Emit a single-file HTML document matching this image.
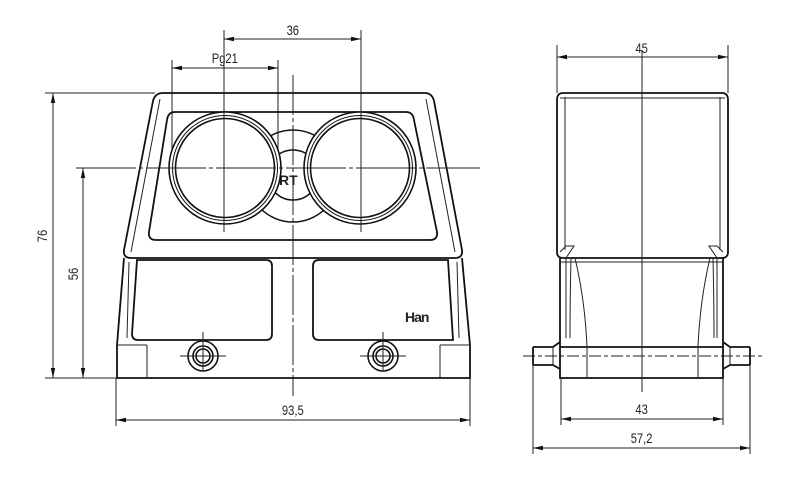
<!DOCTYPE html>
<html><head><meta charset="utf-8"><style>
html,body{margin:0;padding:0;background:#fff}
svg{display:block}
text{font-family:"Liberation Sans",sans-serif;font-size:14px;fill:#222}
</style></head><body>
<svg width="793" height="483" viewBox="0 0 793 483" xmlns="http://www.w3.org/2000/svg">
<defs>
<marker id="a" viewBox="0 0 10 6" refX="10" refY="3" markerWidth="10" markerHeight="6" markerUnits="userSpaceOnUse" orient="auto-start-reverse"><path d="M0,0.8 L10,3 L0,5.2z" fill="#111"/></marker>
</defs>
<g fill="none" stroke="#222" stroke-width="1">
<line x1="224" y1="39" x2="361" y2="39" marker-start="url(#a)" marker-end="url(#a)"/>
<line x1="172" y1="68" x2="278" y2="68" marker-start="url(#a)" marker-end="url(#a)"/>
<line x1="53" y1="93" x2="53" y2="378" marker-start="url(#a)" marker-end="url(#a)"/>
<line x1="83" y1="168" x2="83" y2="378" marker-start="url(#a)" marker-end="url(#a)"/>
<line x1="116" y1="420" x2="470" y2="420" marker-start="url(#a)" marker-end="url(#a)"/>
<line x1="557" y1="57" x2="728" y2="57" marker-start="url(#a)" marker-end="url(#a)"/>
<line x1="561" y1="419" x2="723" y2="419" marker-start="url(#a)" marker-end="url(#a)"/>
<line x1="533" y1="448" x2="750" y2="448" marker-start="url(#a)" marker-end="url(#a)"/>
<line x1="45" y1="93" x2="155" y2="93"/>
<line x1="45" y1="378" x2="116" y2="378"/>
<line x1="172" y1="60" x2="172" y2="150"/>
<line x1="278" y1="60" x2="278" y2="150"/>
<line x1="116" y1="378" x2="116" y2="426"/>
<line x1="470" y1="378" x2="470" y2="426"/>
<line x1="557" y1="45" x2="557" y2="93"/>
<line x1="728" y1="45" x2="728" y2="93"/>
<line x1="561" y1="378" x2="561" y2="425"/>
<line x1="723" y1="378" x2="723" y2="425"/>
<line x1="533" y1="360" x2="533" y2="454"/>
<line x1="750" y1="360" x2="750" y2="454"/>
<line x1="523" y1="356" x2="762" y2="356" stroke-dasharray="12,3,4,3"/>
</g>
<g fill="none" stroke="#111" stroke-width="1.8">
<path d="M163,93 L425,93 Q432,93 434,101 L462,250 Q463,258 455,258 L131,258 Q123,258 124,250 L153,101 Q155,93 163,93Z"/>
<path d="M175,112 L406,112 Q413,112 414,120 L437,232 Q438,240 430,240 L156,240 Q148,240 149,232 L167,120 Q168,112 175,112Z"/>
<path d="M124,258 L117,345 L117,378 L470,378 L470,345 L462,258"/>
<path d="M137,260 L266,260 Q272,260 272,266 L272,334 Q272,340 266,340 L138,340 Q132,340 132,334 Z"/>
<path d="M319,260 L448,260 L453,340 L319,340 Q313,340 313,334 L313,266 Q313,260 319,260Z"/>
</g>
<g fill="none" stroke="#222" stroke-width="1">
<path d="M147,345 L147,378 M440,345 L440,378 M117,345 L147,345 M440,345 L470,345"/>
<path d="M129,262 L127,338 M457,262 L459,338"/>
<path d="M160,99 L131,252 M426,99 L455,252"/>
<circle cx="293" cy="176" r="46" stroke="#111" stroke-width="1.5"/>
<circle cx="293" cy="175" r="25" stroke="#111" stroke-width="1.5"/>
</g>
<text x="279" y="185" style="font-weight:bold;font-size:14px">RT</text>
<g fill="#fff" stroke="#111" stroke-width="1.6">
<circle cx="225" cy="168" r="56"/><circle cx="225" cy="168" r="52.5" stroke-width="1"/><circle cx="225" cy="168" r="49.5"/>
<circle cx="360" cy="168" r="56"/><circle cx="360" cy="168" r="52.5" stroke-width="1"/><circle cx="360" cy="168" r="49.5"/>
<circle cx="203" cy="356" r="15"/><circle cx="203" cy="356" r="10"/><circle cx="203" cy="356" r="7"/>
<circle cx="383" cy="356" r="15"/><circle cx="383" cy="356" r="10"/><circle cx="383" cy="356" r="7"/>
</g>
<g stroke="#222" stroke-width="1" fill="none">
<line x1="76" y1="168" x2="480" y2="168" stroke-dasharray="60,3,4,3"/>
<line x1="224" y1="30" x2="224" y2="232"/>
<line x1="361" y1="30" x2="361" y2="232"/>
<line x1="293" y1="75" x2="293" y2="396" stroke-dasharray="40,3,4,3"/>
<line x1="180" y1="356" x2="226" y2="356"/><line x1="203" y1="332" x2="203" y2="370"/>
<line x1="360" y1="356" x2="406" y2="356"/><line x1="383" y1="332" x2="383" y2="370"/>
</g>
<text x="405" y="322" style="font-weight:bold;font-size:14px;letter-spacing:-1px">Han</text>
<g fill="none" stroke="#111" stroke-width="1.8">
<path d="M563,93 L722,93 Q728,93 728,100 L728,252 Q728,258 722,258 L563,258 Q557,258 557,252 L557,100 Q557,93 563,93Z"/>
<path d="M560,258 L560,378 L723,378 L723,258"/>
<path d="M560,347 L723,347"/>
<path d="M533,347 L553,347 L560,342 M533,365 L553,365 L560,369 M533,347 L533,365"/>
<path d="M750,347 L730,347 L723,342 M750,365 L730,365 L723,369 M750,347 L750,365"/>
</g>
<g fill="none" stroke="#222" stroke-width="1">
<line x1="642" y1="50" x2="642" y2="392"/>
<path d="M565,97 L565,250 M720,97 L720,250 M560,98 L725,98"/>
<path d="M560,262 L723,262 M587,378 L587,347 Q585,300 575,258 M698,378 L698,347 Q700,300 710,258"/>
<path d="M566,258 L566,338 M717,258 L717,338 M571,258 Q570,300 570,338 M713,258 Q714,300 714,338"/>
<path d="M560,252 L566,246 L574,246 L566,258 M723,252 L717,246 L709,246 L717,258"/>
<path d="M553,347 L553,365 M730,347 L730,365"/>
</g>
<g transform="scale(0.8,1)">
<text x="366" y="35" text-anchor="middle">36</text>
<text x="281" y="63" text-anchor="middle">Pg21</text>
<text x="366" y="415" text-anchor="middle">93,5</text>
<text x="802" y="53" text-anchor="middle">45</text>
<text x="802" y="414" text-anchor="middle">43</text>
<text x="802" y="443" text-anchor="middle">57,2</text>
</g>
<text transform="translate(47,236) rotate(-90) scale(0.8,1)" text-anchor="middle">76</text>
<text transform="translate(78,274) rotate(-90) scale(0.8,1)" text-anchor="middle">56</text>
</svg>
</body></html>
